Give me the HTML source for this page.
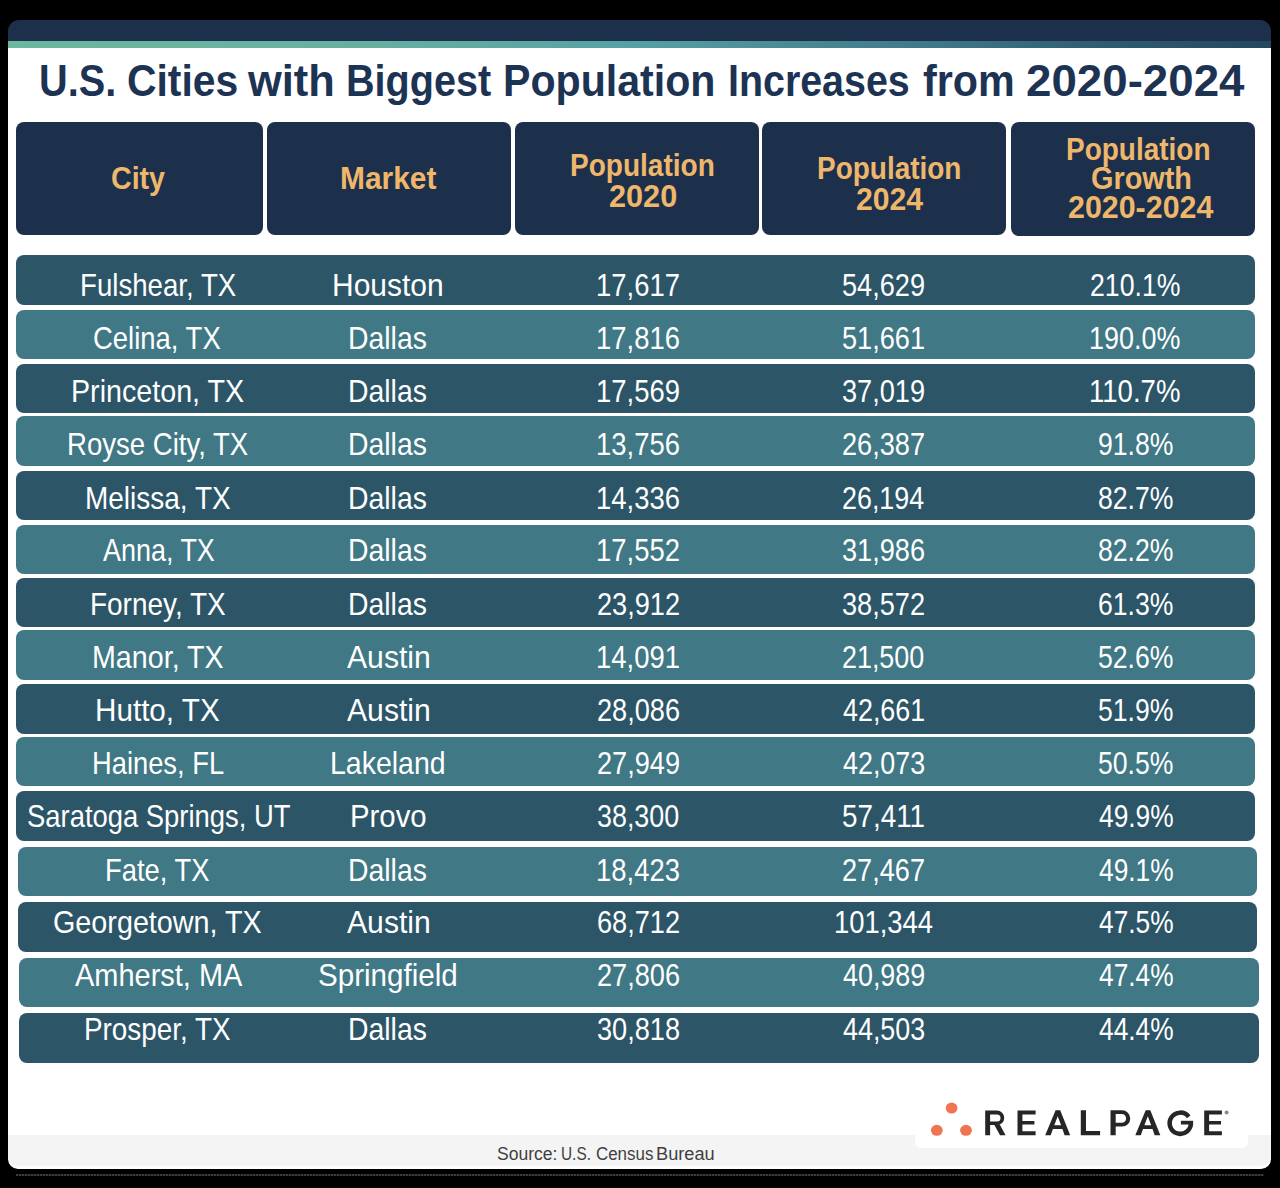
<!DOCTYPE html>
<html><head><meta charset="utf-8"><style>
html,body{margin:0;padding:0;background:#000;}
body{width:1280px;height:1188px;position:relative;overflow:hidden;font-family:"Liberation Sans", sans-serif;}
.r{position:absolute;}
.t{position:absolute;white-space:nowrap;line-height:1;transform-origin:0 0;}
</style></head><body>
<div class="r" style="left:8px;top:41px;width:1263px;height:1127.9px;background:#ffffff;border-radius:0 0 10px 10px;"></div>
<div class="r" style="left:8px;top:20px;width:1263px;height:21px;background:#1c304c;border-radius:11px 11px 0 0;"></div>
<div class="r" style="left:8px;top:41px;width:1263px;height:7px;background:linear-gradient(90deg,#6cb7a0 0%,#68b1a0 25%,#5ea8a2 40%,#55a0a5 50%,#4a8a95 62%,#3d7585 75%,#2f5d72 86%,#24485e 100%);border-radius:0;"></div>
<div class="r" style="left:8px;top:1135px;width:1263px;height:30.6px;background:#f4f4f4;border-radius:0 0 10px 10px;"></div>
<div class="r" style="left:16px;top:122.2px;width:247px;height:112.4px;background:#1c304b;border-radius:8px;"></div>
<div class="r" style="left:266.8px;top:121.6px;width:244.1px;height:113px;background:#1c304b;border-radius:8px;"></div>
<div class="r" style="left:514.8px;top:121.6px;width:244px;height:113.1px;background:#1c304b;border-radius:8px;"></div>
<div class="r" style="left:762px;top:121.8px;width:244px;height:113px;background:#1c304b;border-radius:8px;"></div>
<div class="r" style="left:1011px;top:122.3px;width:244.2px;height:113.4px;background:#1c304b;border-radius:8px;"></div>
<div class="r" style="left:16px;top:255px;width:1239px;height:50.1px;background:#2c5568;border-radius:8px;"></div>
<div class="r" style="left:16px;top:309.7px;width:1239px;height:49.7px;background:#407885;border-radius:8px;"></div>
<div class="r" style="left:16px;top:363.8px;width:1239px;height:49.4px;background:#2c5568;border-radius:8px;"></div>
<div class="r" style="left:16px;top:416.3px;width:1239px;height:49.7px;background:#407885;border-radius:8px;"></div>
<div class="r" style="left:16px;top:471px;width:1239px;height:49.2px;background:#2c5568;border-radius:8px;"></div>
<div class="r" style="left:16px;top:524.6px;width:1239px;height:49.5px;background:#407885;border-radius:8px;"></div>
<div class="r" style="left:16px;top:577.6px;width:1239px;height:49.7px;background:#2c5568;border-radius:8px;"></div>
<div class="r" style="left:16px;top:630.1px;width:1239px;height:49.7px;background:#407885;border-radius:8px;"></div>
<div class="r" style="left:16px;top:684px;width:1239.4px;height:49.5px;background:#2c5568;border-radius:8px;"></div>
<div class="r" style="left:16px;top:737.2px;width:1239.4px;height:49.3px;background:#407885;border-radius:8px;"></div>
<div class="r" style="left:16px;top:791.1px;width:1239.4px;height:49.9px;background:#2c5568;border-radius:8px;"></div>
<div class="r" style="left:17.8px;top:846.7px;width:1239.2px;height:49.7px;background:#407885;border-radius:8px;"></div>
<div class="r" style="left:17.8px;top:902px;width:1239px;height:49.5px;background:#2c5568;border-radius:8px;"></div>
<div class="r" style="left:19.4px;top:957.8px;width:1239.6px;height:49.3px;background:#407885;border-radius:8px;"></div>
<div class="r" style="left:19.4px;top:1013px;width:1239.6px;height:49.7px;background:#2c5568;border-radius:8px;"></div>
<div class="r" style="left:915px;top:1095px;width:333px;height:53px;background:#ffffff;border-radius:6px;"></div>
<div class="r" style="left:16px;top:1174px;width:1248px;height:2px;background:repeating-linear-gradient(90deg,#3c3c3c 0 2px,#1a1a1a 2px 3px)"></div>
<svg style="position:absolute;left:0;top:0" width="1280" height="1188" viewBox="0 0 1280 1188">
<g fill="#ef7451"><ellipse cx="951.6" cy="1108.1" rx="5.9" ry="5.5"/><ellipse cx="936.8" cy="1130.3" rx="5.9" ry="5.5"/><ellipse cx="966.0" cy="1130.3" rx="5.9" ry="5.5"/></g>
<g fill="#262626">
<path d="M985.2,1110.6H997A6.5,6.5 0 0 1 997,1125.1H990.1V1135.2H985.2Z M990.1,1114.4V1121.4H997A3.5,3.5 0 0 0 997,1114.4Z" fill-rule="evenodd"/>
<path d="M994,1124.2H999.6L1005.6,1135.2H1000Z"/>
<path d="M1017.5,1110.6H1035.6V1114.5H1022.4V1120.9H1034.4V1124.6H1022.4V1131.2H1035.6V1135.2H1017.5Z"/>
<path id="A1" d="M1045.2,1135.2L1055.6,1110.3H1060.2L1070.2,1135.2H1064.6L1062.4,1128.9H1052.9L1050.7,1135.2Z M1054.3,1125.2H1061.1L1057.7,1116.2Z" fill-rule="evenodd"/>
<path d="M1080.8,1110.3H1086V1131.1H1100.1V1135.2H1080.8Z"/>
<path d="M1110.5,1110.3H1122.1A8.15,8.15 0 0 1 1122.1,1126.6H1115.7V1135.2H1110.5Z M1115.7,1114.1V1122.8H1121.8A4.35,4.35 0 0 0 1121.8,1114.1Z" fill-rule="evenodd"/>
<path d="M1135.3,1135.2L1145.7,1110.3H1150.3L1160.3,1135.2H1154.7L1152.5,1128.9H1143L1140.8,1135.2Z M1144.4,1125.2H1151.2L1147.8,1116.2Z" fill-rule="evenodd"/>
<path d="M1188.7,1116.8A10.6,10.6 0 1 0 1190.85,1122.6" fill="none" stroke="#262626" stroke-width="4.5"/>
<path d="M1180.9,1120.8H1193.1V1124.5H1180.9Z"/>
<path d="M1204.2,1110.6H1221.9V1114.5H1209.1V1120.9H1221V1124.6H1209.1V1131.2H1221.9V1135.2H1204.2Z"/>
<circle cx="1226.6" cy="1112.6" r="2" fill="#8a8a8a"/>
</g>
</svg>

<div class="t" style="left:38.73px;top:58.09px;font-size:44.77px;font-weight:700;color:#1d3354;transform:scaleX(0.8868)">U.S.</div>
<div class="t" style="left:127.09px;top:58.09px;font-size:44.77px;font-weight:700;color:#1d3354;transform:scaleX(0.9127)">Cities</div>
<div class="t" style="left:248.47px;top:58.09px;font-size:44.77px;font-weight:700;color:#1d3354;transform:scaleX(0.9700)">with</div>
<div class="t" style="left:346.10px;top:58.09px;font-size:44.77px;font-weight:700;color:#1d3354;transform:scaleX(0.8840)">Biggest</div>
<div class="t" style="left:503.49px;top:58.09px;font-size:44.77px;font-weight:700;color:#1d3354;transform:scaleX(0.9188)">Population</div>
<div class="t" style="left:727.86px;top:58.09px;font-size:44.77px;font-weight:700;color:#1d3354;transform:scaleX(0.8797)">Increases</div>
<div class="t" style="left:922.50px;top:58.09px;font-size:44.77px;font-weight:700;color:#1d3354;transform:scaleX(0.9216)">from</div>
<div class="t" style="left:1026.48px;top:58.09px;font-size:44.77px;font-weight:700;color:#1d3354;transform:scaleX(1.0206)">2020-2024</div>
<div class="t" style="left:111.26px;top:163.16px;font-size:30.52px;font-weight:700;color:#efb76c;transform:scaleX(0.9369)">City</div>
<div class="t" style="left:339.94px;top:163.16px;font-size:30.52px;font-weight:700;color:#efb76c;transform:scaleX(0.9807)">Market</div>
<div class="t" style="left:569.76px;top:150.16px;font-size:30.52px;font-weight:700;color:#efb76c;transform:scaleX(0.9182)">Population</div>
<div class="t" style="left:608.99px;top:180.96px;font-size:30.52px;font-weight:700;color:#efb76c;transform:scaleX(1.0051)">2020</div>
<div class="t" style="left:817.07px;top:152.86px;font-size:30.52px;font-weight:700;color:#efb76c;transform:scaleX(0.9162)">Population</div>
<div class="t" style="left:856.31px;top:183.66px;font-size:30.52px;font-weight:700;color:#efb76c;transform:scaleX(0.9878)">2024</div>
<div class="t" style="left:1066.17px;top:133.56px;font-size:30.52px;font-weight:700;color:#efb76c;transform:scaleX(0.9169)">Population</div>
<div class="t" style="left:1091.35px;top:163.16px;font-size:30.52px;font-weight:700;color:#efb76c;transform:scaleX(0.9458)">Growth</div>
<div class="t" style="left:1068.00px;top:192.36px;font-size:30.52px;font-weight:700;color:#efb76c;transform:scaleX(0.9961)">2020-2024</div>
<div class="t" style="left:79.72px;top:269.76px;font-size:31.11px;font-weight:400;color:#ffffff;transform:scaleX(0.8887)">Fulshear, TX</div>
<div class="t" style="left:332.07px;top:269.76px;font-size:31.11px;font-weight:400;color:#ffffff;transform:scaleX(0.9643)">Houston</div>
<div class="t" style="left:595.74px;top:269.76px;font-size:31.11px;font-weight:400;color:#ffffff;transform:scaleX(0.8823)">17,617</div>
<div class="t" style="left:842.13px;top:269.76px;font-size:31.11px;font-weight:400;color:#ffffff;transform:scaleX(0.8727)">54,629</div>
<div class="t" style="left:1090.34px;top:269.76px;font-size:31.11px;font-weight:400;color:#ffffff;transform:scaleX(0.8573)">210.1%</div>
<div class="t" style="left:93.12px;top:322.56px;font-size:31.11px;font-weight:400;color:#ffffff;transform:scaleX(0.8828)">Celina, TX</div>
<div class="t" style="left:348.18px;top:322.56px;font-size:31.11px;font-weight:400;color:#ffffff;transform:scaleX(0.9123)">Dallas</div>
<div class="t" style="left:595.74px;top:322.56px;font-size:31.11px;font-weight:400;color:#ffffff;transform:scaleX(0.8823)">17,816</div>
<div class="t" style="left:842.13px;top:322.56px;font-size:31.11px;font-weight:400;color:#ffffff;transform:scaleX(0.8727)">51,661</div>
<div class="t" style="left:1089.47px;top:322.56px;font-size:31.11px;font-weight:400;color:#ffffff;transform:scaleX(0.8657)">190.0%</div>
<div class="t" style="left:71.16px;top:375.76px;font-size:31.11px;font-weight:400;color:#ffffff;transform:scaleX(0.9216)">Princeton, TX</div>
<div class="t" style="left:348.18px;top:375.76px;font-size:31.11px;font-weight:400;color:#ffffff;transform:scaleX(0.9123)">Dallas</div>
<div class="t" style="left:595.74px;top:375.76px;font-size:31.11px;font-weight:400;color:#ffffff;transform:scaleX(0.8823)">17,569</div>
<div class="t" style="left:842.13px;top:375.76px;font-size:31.11px;font-weight:400;color:#ffffff;transform:scaleX(0.8727)">37,019</div>
<div class="t" style="left:1089.43px;top:375.76px;font-size:31.11px;font-weight:400;color:#ffffff;transform:scaleX(0.8856)">110.7%</div>
<div class="t" style="left:66.73px;top:429.16px;font-size:31.11px;font-weight:400;color:#ffffff;transform:scaleX(0.8855)">Royse City, TX</div>
<div class="t" style="left:348.18px;top:429.16px;font-size:31.11px;font-weight:400;color:#ffffff;transform:scaleX(0.9123)">Dallas</div>
<div class="t" style="left:595.74px;top:429.16px;font-size:31.11px;font-weight:400;color:#ffffff;transform:scaleX(0.8823)">13,756</div>
<div class="t" style="left:842.13px;top:429.16px;font-size:31.11px;font-weight:400;color:#ffffff;transform:scaleX(0.8727)">26,387</div>
<div class="t" style="left:1097.84px;top:429.16px;font-size:31.11px;font-weight:400;color:#ffffff;transform:scaleX(0.8553)">91.8%</div>
<div class="t" style="left:84.70px;top:482.76px;font-size:31.11px;font-weight:400;color:#ffffff;transform:scaleX(0.8994)">Melissa, TX</div>
<div class="t" style="left:348.18px;top:482.76px;font-size:31.11px;font-weight:400;color:#ffffff;transform:scaleX(0.9123)">Dallas</div>
<div class="t" style="left:595.74px;top:482.76px;font-size:31.11px;font-weight:400;color:#ffffff;transform:scaleX(0.8823)">14,336</div>
<div class="t" style="left:842.14px;top:482.76px;font-size:31.11px;font-weight:400;color:#ffffff;transform:scaleX(0.8634)">26,194</div>
<div class="t" style="left:1097.84px;top:482.76px;font-size:31.11px;font-weight:400;color:#ffffff;transform:scaleX(0.8553)">82.7%</div>
<div class="t" style="left:102.50px;top:535.26px;font-size:31.11px;font-weight:400;color:#ffffff;transform:scaleX(0.8661)">Anna, TX</div>
<div class="t" style="left:348.18px;top:535.26px;font-size:31.11px;font-weight:400;color:#ffffff;transform:scaleX(0.9123)">Dallas</div>
<div class="t" style="left:595.74px;top:535.26px;font-size:31.11px;font-weight:400;color:#ffffff;transform:scaleX(0.8823)">17,552</div>
<div class="t" style="left:842.13px;top:535.26px;font-size:31.11px;font-weight:400;color:#ffffff;transform:scaleX(0.8727)">31,986</div>
<div class="t" style="left:1097.84px;top:535.26px;font-size:31.11px;font-weight:400;color:#ffffff;transform:scaleX(0.8553)">82.2%</div>
<div class="t" style="left:89.70px;top:589.16px;font-size:31.11px;font-weight:400;color:#ffffff;transform:scaleX(0.8982)">Forney, TX</div>
<div class="t" style="left:348.18px;top:589.16px;font-size:31.11px;font-weight:400;color:#ffffff;transform:scaleX(0.9123)">Dallas</div>
<div class="t" style="left:596.63px;top:589.16px;font-size:31.11px;font-weight:400;color:#ffffff;transform:scaleX(0.8727)">23,912</div>
<div class="t" style="left:842.13px;top:589.16px;font-size:31.11px;font-weight:400;color:#ffffff;transform:scaleX(0.8727)">38,572</div>
<div class="t" style="left:1097.84px;top:589.16px;font-size:31.11px;font-weight:400;color:#ffffff;transform:scaleX(0.8553)">61.3%</div>
<div class="t" style="left:91.66px;top:642.06px;font-size:31.11px;font-weight:400;color:#ffffff;transform:scaleX(0.9210)">Manor, TX</div>
<div class="t" style="left:346.50px;top:642.06px;font-size:31.11px;font-weight:400;color:#ffffff;transform:scaleX(0.9692)">Austin</div>
<div class="t" style="left:595.74px;top:642.06px;font-size:31.11px;font-weight:400;color:#ffffff;transform:scaleX(0.8823)">14,091</div>
<div class="t" style="left:842.14px;top:642.06px;font-size:31.11px;font-weight:400;color:#ffffff;transform:scaleX(0.8634)">21,500</div>
<div class="t" style="left:1097.84px;top:642.06px;font-size:31.11px;font-weight:400;color:#ffffff;transform:scaleX(0.8553)">52.6%</div>
<div class="t" style="left:94.59px;top:694.56px;font-size:31.11px;font-weight:400;color:#ffffff;transform:scaleX(0.9530)">Hutto, TX</div>
<div class="t" style="left:346.50px;top:694.56px;font-size:31.11px;font-weight:400;color:#ffffff;transform:scaleX(0.9692)">Austin</div>
<div class="t" style="left:596.63px;top:694.56px;font-size:31.11px;font-weight:400;color:#ffffff;transform:scaleX(0.8727)">28,086</div>
<div class="t" style="left:843.00px;top:694.56px;font-size:31.11px;font-weight:400;color:#ffffff;transform:scaleX(0.8634)">42,661</div>
<div class="t" style="left:1097.84px;top:694.56px;font-size:31.11px;font-weight:400;color:#ffffff;transform:scaleX(0.8553)">51.9%</div>
<div class="t" style="left:91.74px;top:748.46px;font-size:31.11px;font-weight:400;color:#ffffff;transform:scaleX(0.8780)">Haines, FL</div>
<div class="t" style="left:329.67px;top:748.46px;font-size:31.11px;font-weight:400;color:#ffffff;transform:scaleX(0.9152)">Lakeland</div>
<div class="t" style="left:596.63px;top:748.46px;font-size:31.11px;font-weight:400;color:#ffffff;transform:scaleX(0.8727)">27,949</div>
<div class="t" style="left:843.00px;top:748.46px;font-size:31.11px;font-weight:400;color:#ffffff;transform:scaleX(0.8634)">42,073</div>
<div class="t" style="left:1097.84px;top:748.46px;font-size:31.11px;font-weight:400;color:#ffffff;transform:scaleX(0.8553)">50.5%</div>
<div class="t" style="left:26.62px;top:801.16px;font-size:31.11px;font-weight:400;color:#ffffff;transform:scaleX(0.8809)">Saratoga Springs, UT</div>
<div class="t" style="left:349.61px;top:801.16px;font-size:31.11px;font-weight:400;color:#ffffff;transform:scaleX(0.9431)">Provo</div>
<div class="t" style="left:596.64px;top:801.16px;font-size:31.11px;font-weight:400;color:#ffffff;transform:scaleX(0.8634)">38,300</div>
<div class="t" style="left:842.10px;top:801.16px;font-size:31.11px;font-weight:400;color:#ffffff;transform:scaleX(0.8950)">57,411</div>
<div class="t" style="left:1098.70px;top:801.16px;font-size:31.11px;font-weight:400;color:#ffffff;transform:scaleX(0.8455)">49.9%</div>
<div class="t" style="left:104.74px;top:854.56px;font-size:31.11px;font-weight:400;color:#ffffff;transform:scaleX(0.8809)">Fate, TX</div>
<div class="t" style="left:348.18px;top:854.56px;font-size:31.11px;font-weight:400;color:#ffffff;transform:scaleX(0.9123)">Dallas</div>
<div class="t" style="left:595.74px;top:854.56px;font-size:31.11px;font-weight:400;color:#ffffff;transform:scaleX(0.8823)">18,423</div>
<div class="t" style="left:842.13px;top:854.56px;font-size:31.11px;font-weight:400;color:#ffffff;transform:scaleX(0.8727)">27,467</div>
<div class="t" style="left:1098.70px;top:854.56px;font-size:31.11px;font-weight:400;color:#ffffff;transform:scaleX(0.8455)">49.1%</div>
<div class="t" style="left:53.08px;top:907.36px;font-size:31.11px;font-weight:400;color:#ffffff;transform:scaleX(0.9239)">Georgetown, TX</div>
<div class="t" style="left:346.50px;top:907.36px;font-size:31.11px;font-weight:400;color:#ffffff;transform:scaleX(0.9692)">Austin</div>
<div class="t" style="left:596.63px;top:907.36px;font-size:31.11px;font-weight:400;color:#ffffff;transform:scaleX(0.8727)">68,712</div>
<div class="t" style="left:833.74px;top:907.36px;font-size:31.11px;font-weight:400;color:#ffffff;transform:scaleX(0.8810)">101,344</div>
<div class="t" style="left:1098.70px;top:907.36px;font-size:31.11px;font-weight:400;color:#ffffff;transform:scaleX(0.8455)">47.5%</div>
<div class="t" style="left:75.00px;top:959.86px;font-size:31.11px;font-weight:400;color:#ffffff;transform:scaleX(0.9308)">Amherst, MA</div>
<div class="t" style="left:318.05px;top:959.86px;font-size:31.11px;font-weight:400;color:#ffffff;transform:scaleX(0.9507)">Springfield</div>
<div class="t" style="left:596.63px;top:959.86px;font-size:31.11px;font-weight:400;color:#ffffff;transform:scaleX(0.8727)">27,806</div>
<div class="t" style="left:843.00px;top:959.86px;font-size:31.11px;font-weight:400;color:#ffffff;transform:scaleX(0.8634)">40,989</div>
<div class="t" style="left:1098.70px;top:959.86px;font-size:31.11px;font-weight:400;color:#ffffff;transform:scaleX(0.8455)">47.4%</div>
<div class="t" style="left:84.21px;top:1013.76px;font-size:31.11px;font-weight:400;color:#ffffff;transform:scaleX(0.8958)">Prosper, TX</div>
<div class="t" style="left:348.18px;top:1013.76px;font-size:31.11px;font-weight:400;color:#ffffff;transform:scaleX(0.9123)">Dallas</div>
<div class="t" style="left:596.63px;top:1013.76px;font-size:31.11px;font-weight:400;color:#ffffff;transform:scaleX(0.8727)">30,818</div>
<div class="t" style="left:843.00px;top:1013.76px;font-size:31.11px;font-weight:400;color:#ffffff;transform:scaleX(0.8634)">44,503</div>
<div class="t" style="left:1098.70px;top:1013.76px;font-size:31.11px;font-weight:400;color:#ffffff;transform:scaleX(0.8455)">44.4%</div>
<div class="t" style="left:497.00px;top:1144.60px;font-size:18.90px;font-weight:400;color:#3f3f3f;transform:scaleX(0.9278)">Source:</div>
<div class="t" style="left:560.98px;top:1144.60px;font-size:18.90px;font-weight:400;color:#3f3f3f;transform:scaleX(0.8153)">U.S.</div>
<div class="t" style="left:595.60px;top:1144.60px;font-size:18.90px;font-weight:400;color:#3f3f3f;transform:scaleX(0.8952)">Census</div>
<div class="t" style="left:656.44px;top:1144.60px;font-size:18.90px;font-weight:400;color:#3f3f3f;transform:scaleX(0.9635)">Bureau</div>
</body></html>
